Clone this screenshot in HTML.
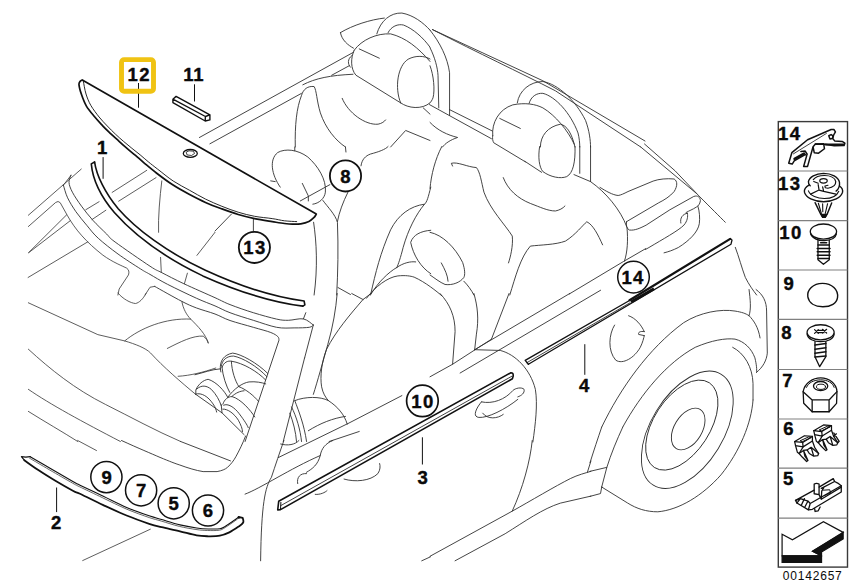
<!DOCTYPE html>
<html><head><meta charset="utf-8"><title>Diagram</title>
<style>
html,body{margin:0;padding:0;background:#fff;}
body{width:858px;height:586px;overflow:hidden;font-family:"Liberation Sans",sans-serif;}
svg{display:block}
text{font-family:"Liberation Sans",sans-serif;font-weight:bold;fill:#0a0a0a;stroke:#0a0a0a;stroke-width:0.4px;stroke-linejoin:round}
</style></head><body>
<svg width="858" height="586" viewBox="0 0 858 586">
<rect width="858" height="586" fill="#fff" stroke="none"/>
<g fill="none" stroke="#303030" stroke-width="0.9" stroke-linecap="round" stroke-linejoin="round">
<path d="M366.52,298.24C375.3,286.45 387.84,277.16 397.88,275.91C405.4,275.16 410.42,275.91 414.18,277.16C425.47,282.18 436.76,291.46 441.78,295.73"/>
</g>
<g fill="none" stroke="#303030" stroke-width="0.9" stroke-linecap="round" stroke-linejoin="round">
<path d="M600,187.38C605.59,190.87 612.59,195.07 618.18,195.49C620.98,195.07 623.78,193.67 627.97,191.57L653.15,181.08C658.74,178.99 667.13,178.29 674.13,178.99C677.62,181.08 677.62,185.98 674.13,191.57C669.93,196.47 664.34,199.97 658.74,202.76L626.57,221.64"/>
<path d="M626.57,221.64C625.87,225.14 626.57,228.64 629.37,230.03C634.97,230.73 640.56,227.94 646.15,225.14L669.93,209.76L693.71,196.47C697.9,195.07 700,197.17 700.42,200.66C700,204.16 697.9,206.26 696.5,206.96C692.31,209.76 689.51,210.45 686.01,212.55"/>
<path d="M697.9,206.26C699.58,211.15 700,218.15 699.3,223.74C697.9,232.13 689.51,240.52 678.32,247.52C672.73,250.31 668.53,251.71 664.06,252.83"/>
<path d="M687.41,213.25C682.52,213.95 679.72,218.15 680.84,223.04"/>
<path d="M687.41,213.25C688.11,216.75 687.41,220.94 683.92,225.14C678.32,230.73 662.94,239.13 648.95,247.52L645.45,249.48"/>
</g>
<g fill="none" stroke="#303030" stroke-width="0.9" stroke-linecap="round" stroke-linejoin="round">

</g>
<g fill="none" stroke="#303030" stroke-width="0.9" stroke-linecap="round" stroke-linejoin="round">
<path d="M331.66,75.26L349.22,65.73"/>
<path d="M295.28,147.01C294.78,125.44 296.53,107.88 301.55,95.33C303.31,89.06 307.82,85.8 314.1,86.55C316.6,90.32 316.6,100.35 320.37,112.89C325.38,127.95 335.42,140.49 345.46,147.01"/>
<path d="M302.81,84.8C315.35,78.27 330.4,75.26 352.98,74.26"/>
<path d="M354.24,50.18C361.76,39.64 376.81,33.12 390.61,33.87C405.67,37.63 418.21,47.67 430,61.46"/>
<path d="M354.24,50.18C350.47,57.7 350.47,68.99 355.99,75.26L400.65,102.86"/>
<path d="M400.65,102.86C394.38,87.81 397.64,65.73 408.17,59.21C415.7,55.19 424.48,55.69 430,58.96"/>
<path d="M400.65,102.86C408.17,108.38 421.97,109.88 430,102.86"/>
<path d="M376.81,33.87C380.58,20.57 390.61,12.54 401.9,13.05C413.19,15.05 423.23,22.58 430,30.11"/>
<path d="M388.1,32.61C391.11,26.34 398.14,23.58 403.66,25.09C413.19,28.85 423.23,37.63 430,47.16"/>
<path d="M340.44,32.61C352.98,25.09 370.54,19.57 384.34,18.06"/>
<path d="M340.44,32.61C341.69,40.14 347.96,45.16 353.48,48.17"/>
<path d="M359.25,48.92L379.32,58.2"/>
<path d="M351.73,55.69C347.46,58.96 347.46,63.97 350.47,67.23"/>
<path d="M342.19,98.34C347.96,112.89 365.52,125.44 378.07,124.18C381.83,123.43 384.34,121.67 385.6,119.92"/>
<path d="M390.61,147.01L405.67,130.46L430,140.49"/>
<path d="M423.23,107.88L430,114.15"/>
</g>
<g fill="none" stroke="#303030" stroke-width="0.9" stroke-linecap="round" stroke-linejoin="round">
<path d="M432.51,29.6L542.89,80.78L645,140.99"/>
<path d="M432.51,29.6C480.18,53.94 517.81,71.5 555.44,90.82L640.74,147.01"/>
<path d="M430,30.11C440.04,42.65 447.56,57.7 449.57,72.75L449.57,115.4"/>
<path d="M430,47.67C435.02,57.7 437.53,67.74 438.03,75.26L438.78,107.88"/>
<path d="M430,65.73C433.76,75.26 435.02,90.32 433.01,97.84C432.01,100.35 430.75,102.36 430,102.86"/>
<path d="M449.57,109.63L492.22,130.96"/>
<path d="M429.5,104.61L491.46,138.73"/>
<path d="M430,122.43C437.53,130.46 447.56,134.97 457.6,137.48C450.07,139.99 445.05,143.5 442.54,147.01"/>
<path d="M492.72,135.47C491.46,122.93 498.99,109.13 512.79,104.87C525.33,102.36 535.37,104.11 542.89,107.88C555.44,115.4 567.98,130.46 574.25,144.25"/>
<path d="M492.72,135.47C492.22,138.48 492.72,140.99 493.72,142.75L525.33,161.81"/>
<path d="M540.38,147.01C540.38,135.47 547.91,126.69 560.46,124.18C566.73,125.44 571.74,132.96 575.01,147.01"/>
<path d="M499.74,118.41L520.32,128.45"/>
<path d="M517.3,102.86C519.06,90.32 530.35,81.53 542.89,81.53C557.95,84.04 575.51,100.35 585.54,120.42C589.31,130.46 590.56,140.49 590.56,147.01"/>
<path d="M529.1,103.36C530.85,96.59 536.62,92.82 542.89,93.33C555.44,96.59 570.49,112.89 578.02,132.96C579.27,137.98 579.77,143 579.77,147.01"/>
</g>
<g fill="none" stroke="#404040" stroke-width="0.85" stroke-linecap="round" stroke-linejoin="round">
<path d="M28.35,215.24L81.28,169.08"/>
<path d="M71,175.35L63.22,185.38"/>
<path d="M28.35,226.53L55.69,202.44Q58.2,200.44 60.21,202.69L67.23,215.24C75.26,229.79 86.55,242.33 102.86,255.13C112.89,262.4 122.93,266.17 126.69,268.17Q129.95,270.43 128.45,274.95L119.17,289L117.91,295.02"/>
<path d="M28.35,252.87L66.73,214.74"/>
<path d="M29.1,252.37L70.5,220.51"/>
<path d="M28.1,277.46L87.81,241.83"/>
<path d="M85.8,209.72L99.1,201.69"/>
<path d="M92.07,219.5L105.87,210.22"/>
<path d="M112.14,192.41L146.76,170.33"/>
<path d="M118.66,201.19L156.04,177.61"/>
<path d="M161.81,180.87C159.81,197.18 158.05,217.25 158.55,232.3"/>
<path d="M160.56,257.38L161.31,272.44"/>
<path d="M215,232.3L196.94,255.38"/>
<path d="M187.4,273.19L184.39,283.73"/>
<path d="M145.01,295.02L150.02,287.24L154.79,286.39"/>
</g>
<g fill="none" stroke="#303030" stroke-width="0.9" stroke-linecap="round" stroke-linejoin="round">
<path d="M294.78,147L294.78,150.76"/>
<path d="M280.23,187.14C271.45,174.6 268.94,159.54 277.72,152.52C285.25,148.25 297.79,149.51 307.82,157.03C317.86,165.82 326.64,179.61 325.38,192.16C324.63,198.43 319.11,203.45 312.84,204.2"/>
<path d="M270.69,180.87L275.21,181.62"/>
<path d="M302.3,183.38L308.33,195.92L308.33,200.94"/>
<path d="M329.9,184.63L300.3,200.94"/>
<path d="M322.88,200.44C327.89,207.21 335.42,214.74 337.43,222.26C338.43,247.35 337.93,272.44 336.67,295.02"/>
<path d="M347.96,192.16C342.95,202.19 339.18,212.23 337.43,221.51"/>
<path d="M313.59,222.26C316.6,242.33 317.86,267.42 314.1,295.02"/>
<path d="M345.46,147L345.96,152.02"/>
<path d="M361.01,165.82C361.76,159.54 365.52,155.78 370.54,154.02C378.07,152.02 385.6,149.51 388.1,146.5"/>
<path d="M430.75,187.14C428.24,197.18 426.99,202.19 424.48,204.2C410.68,205.96 398.14,214.74 390.61,229.79C380.58,252.37 375.56,272.44 370.54,295.02"/>
<path d="M424.48,204.2C415.7,214.74 408.17,229.79 403.16,247.35C400.65,257.38 398.14,264.91 396.88,267.42"/>
<path d="M430.75,230.29C420.72,231.04 413.19,234.81 410.68,242.33C413.19,254.88 420.72,267.42 430.75,273.69"/>
<path d="M396.88,267.42C403.16,262.9 410.68,261.15 415.7,261.9"/>
<path d="M371.04,294.01C378.07,282.47 388.1,272.44 396.88,267.42"/>
<path d="M337.93,287.49L350.47,294.51"/>
<path d="M215,231.04L231.31,214.23"/>
<path d="M253.38,219.25L253.38,231.04"/>
</g>
<g fill="none" stroke="#303030" stroke-width="0.9" stroke-linecap="round" stroke-linejoin="round">
<path d="M441.79,146.5C435.02,159.54 431.25,174.6 430,188.39"/>
<path d="M452.58,166.07L451.32,163.31C457.6,161.55 467.63,167.07 476.41,167.57C480.18,172.09 481.43,182.12 483.94,192.16C490.21,209.72 505.26,224.77 512.29,236.06C513.29,246.1 510.28,257.38 508.52,262.9"/>
<path d="M524.83,161.3L541.64,172.34M574,174.6L590.56,181.62C605.61,192.16 620.66,209.72 626.94,227.28C628.19,239.82 627.44,252.37 624.43,261.15"/>
<path d="M539.63,146.5C537.88,157.03 539.13,167.07 542.89,171.59C550.42,177.1 560.46,179.11 566.73,176.6C573,173.34 575.51,162.05 575.01,146.5"/>
<path d="M579.77,146.5L579.77,173.34"/>
<path d="M590.56,146.5L590.56,181.62"/>
<path d="M503.26,177.61C507.77,189.65 517.81,198.43 530.35,203.45C540.38,207.21 547.91,210.97 555.44,210.97C559.2,210.22 562.96,208.46 564.97,205.96"/>
<path d="M509.78,295.02C515.3,277.46 520.32,257.38 530.35,246.1C540.38,244.84 555.44,244.84 565.47,241.08C575.51,234.81 583.03,224.77 586.8,221.76C593.07,224.77 598.09,234.81 602.6,244.84"/>
<path d="M569.24,294.01L623.68,261.4L645.75,248.6"/>
<path d="M430,232.3C442.54,234.81 455.09,247.35 462.61,262.4C465.12,269.93 465.12,274.95 463.87,277.46C460.11,282.47 452.58,285.48 445.05,284.48C440.04,282.47 433.76,277.46 430,274.95"/>
<path d="M441.29,262.9C445.05,269.93 447.56,274.95 448.06,281.22"/>
<path d="M463.87,281.22C467.63,284.98 471.39,290 473.9,295.02"/>
</g>
<g fill="none" stroke="#303030" stroke-width="0.9" stroke-linecap="round" stroke-linejoin="round">
<path d="M644.5,143.99L675.11,170.83L698.94,195.92C710.23,207.21 720.26,217.25 725.28,222.26"/>
<path d="M640.74,147L696.43,193.41"/>
<path d="M735.32,247.35C739.08,257.38 741.59,267.42 745.35,277.46C749.11,284.98 752.88,290 756.64,295.02"/>
</g>
<g fill="none" stroke="#404040" stroke-width="0.85" stroke-linecap="round" stroke-linejoin="round">
<path d="M117.91,293C122.93,299.02 130.46,303.03 135.47,303.53C139.24,302.78 143,299.02 146.01,293.5"/>
<path d="M181.88,301.53C183.14,309.05 186.9,315.32 190.67,319.09C198.19,326.61 205.72,334.14 208.23,342.92"/>
<path d="M124.68,340.91C140.49,327.87 165.58,317.83 190.67,319.09"/>
<path d="M28.35,302.78L97.84,334.64L124.68,340.91C135.47,344.18 145.51,347.94 150.53,352.96C163.07,366.75 180.63,381.81 195.68,394.35"/>
<path d="M167.33,348.44C180.63,341.67 193.17,335.39 203.21,336.15C205.72,337.9 207.72,340.41 208.23,342.92"/>
<path d="M178.12,376.29C190.67,375.53 203.21,372.27 215.75,368.01"/>
<path d="M28.35,349.19C50.18,369.26 75.26,389.33 105.37,404.38C130.46,416.93 155.54,430.73 180.63,441.51"/>
<path d="M28.35,389.33C50.18,404.38 82.79,421.95 120.42,441.51"/>
<path d="M28.35,411.41C45.16,421.95 62.72,431.98 77.77,441.51"/>
</g>
<g fill="none" stroke="#303030" stroke-width="0.9" stroke-linecap="round" stroke-linejoin="round">
<path d="M304.56,357.97L283.24,441.51"/>
<path d="M337.18,293.5C335.92,309.05 332.91,326.61 327.89,344.18C322.88,361.74 317.36,381.81 313.34,394.35"/>
<path d="M351.73,293.5L363.02,299.52"/>
<path d="M371.04,293.5L363.02,299.52C350.47,314.07 335.42,331.63 326.64,349.19C321.62,361.74 319.87,376.79 321.62,386.82C322.88,393.1 325.38,397.36 328.4,400.62"/>
<path d="M294.78,400.62C305.31,396.36 320.37,396.36 328.4,400.62C337.93,406.89 344.2,414.42 347.21,423.95"/>
<path d="M294.78,400.62C299.04,411.91 304.06,424.46 306.57,441.51"/>
<path d="M291.52,406.89C296.53,416.93 300.3,429.47 301.55,441.51"/>
<path d="M289.76,413.17C293.27,421.95 295.78,431.98 296.53,441.51"/>
<path d="M308.33,430.73C320.37,423.2 332.91,418.18 345.46,416.43"/>
<path d="M347.21,423.95L401.9,395.6"/>
<path d="M329.15,441.51L359.25,431.48"/>
</g>
<g fill="none" stroke="#303030" stroke-width="0.9" stroke-linecap="round" stroke-linejoin="round">
<path d="M440.04,293.5C450.07,304.04 455.09,316.58 455.09,331.63L452.58,364.25"/>
<path d="M473.9,293.5C477.67,306.54 478.92,319.09 476.41,334.14L474.66,349.69"/>
<path d="M509.03,293.5L491.46,339.16"/>
<path d="M430,376.79L452.58,364.25L491.46,339.16"/>
<path d="M474.66,349.69L569.74,293.5"/>
<path d="M460.11,373.03L600.6,290.24"/>
<path d="M474.66,349.69L500.25,350.45C515.3,354.21 530.35,369.26 535.37,389.33C537.88,404.38 535.37,424.46 532.86,442.02"/>
<path d="M481.43,401.88C475.16,409.4 472.65,416.93 478.92,417.43C487.7,418.18 505.26,409.4 517.81,399.37"/>
<path d="M481.43,401.88C492.72,404.38 505.26,399.37 512.79,390.59C515.3,388.08 521.57,386.82 524.08,389.33C524.83,393.1 521.57,395.6 517.81,396.86"/>
<path d="M482.68,413.17C487.7,419.94 497.74,418.68 503.26,414.42"/>
</g>
<g fill="none" stroke="#404040" stroke-width="0.85" stroke-linecap="round" stroke-linejoin="round">
<path d="M77.69,440.5L96.48,450.52"/>
<path d="M82.7,560.54L150.36,529.21"/>
</g>
<g fill="none" stroke="#303030" stroke-width="0.9" stroke-linecap="round" stroke-linejoin="round">
<path d="M283.91,440.5C280.16,451.02 275.14,466.06 271.38,477.34C265.12,487.36 261.36,503.65 260.61,560.79"/>
<path d="M245.07,494.13C260.11,488.61 290.18,468.57 320.25,455.53"/>
<path d="M278.4,457.54L347.07,423.96"/>
<path d="M280.66,444.01C287.67,446.01 295.19,444.76 298.95,440.5"/>
<path d="M297.7,483.6C296.44,477.34 300.2,473.08 306.47,473.58"/>
<path d="M306.47,472.32C312.73,468.57 317.75,464.81 320.25,455.53C321.5,448.52 325.26,443.51 332.78,440.5"/>
<path d="M315.24,494.38C320.25,494.88 325.26,492.37 327.02,490.62"/>
<path d="M344.06,479.09C355.34,482.35 370.37,481.1 377.89,473.58C380.4,469.82 380.4,466.06 379.64,463.55"/>
<path d="M421.75,560.79L430.52,556.78"/>
</g>
<g fill="none" stroke="#303030" stroke-width="0.9" stroke-linecap="round" stroke-linejoin="round">
<path d="M532.24,440.5C530.24,461.05 522.72,488.61 512.2,511.17"/>
<path d="M430,556.28L512.2,511.17C530.24,501.14 555.3,486.11 570.34,478.59C577.85,474.83 585.37,473.08 590.89,471.32"/>
<path d="M455.06,560.79L505.18,533.72C525.23,521.19 542.77,508.66 560.31,503.15L590.89,496.13"/>
<path d="M590.89,461.05L587.38,472.32"/>
</g>
<g fill="none" stroke="#303030" stroke-width="0.9" stroke-linecap="round" stroke-linejoin="round">
<path d="M220.38,369.15C219.56,361.29 223.66,354.74 232.66,353.1C240.85,353.92 257.23,362.93 267.87,373.57"/>
<path d="M221.2,366.53C222.02,359.65 226.93,356.05 233.48,356.05C242.49,357.69 257.23,366.2 267.05,376.84"/>
<path d="M222.02,367.51C223.66,362.11 227.75,360.47 231.84,361.29C242.49,362.93 257.23,371.11 265.74,380.12"/>
<path d="M220.38,369.15L220.87,371.93"/>
<path d="M222.02,367.51C222.84,376.02 226.11,385.85 229.72,392.4"/>
<path d="M231.35,361.29C231.84,371.11 235.12,380.94 238.88,386.67"/>
<path d="M227.75,397.31C234.3,388.31 242.49,382.9 249.04,381.92C255.59,381.26 262.14,382.57 265.74,383.88"/>
<path d="M195,374.72C203.19,372.75 211.38,369.48 220.38,368.82"/>
<path d="M195.82,394.37L195.82,389.94C198.28,384.21 203.19,380.12 208.1,379.3C216.29,381.76 224.47,390.76 227.75,397.31"/>
<path d="M196.64,389.12C201.55,384.54 206.79,385.52 211.38,389.45C216.29,394.37 219.56,400.59 221.2,405.5"/>
<path d="M195.82,394.04C201.55,392.4 208.1,396.49 213.01,403.86C215.47,407.14 216.29,410.41 216.62,412.05"/>
<path d="M195.82,394.37L222.02,412.87L244.12,434.65"/>
<path d="M221.2,404.68L222.02,412.87"/>
<path d="M222.84,404.19C224.47,399.28 227.75,396.82 231.84,396.49C240.85,398.95 250.68,410.41 254.77,416.96"/>
<path d="M223.66,405.17C227.75,403.04 234.3,407.14 239.21,413.69C244.12,420.24 247.4,425.15 248.22,427.61"/>
<path d="M222.84,409.1C227.75,408.77 234.3,413.69 238.39,420.24C240.85,425.15 242.49,428.43 242.49,431.7"/>
<path d="M238.88,386.67C245.76,389.12 253.95,395.68 258.54,401.41"/>
<path d="M231.84,396.49C235.94,392.73 240.03,391.09 244.12,390.76"/>
</g>
<g fill="none" stroke="#303030" stroke-width="0.9" stroke-linecap="round" stroke-linejoin="round">
<path d="M199.4,137.5L353.6,52.2"/>
<path d="M209.9,143.8L301.4,93.4"/>
<path d="M180.6,441.5L230.5,460.9"/>
<path d="M121.5,440.5C140,449 150,453 160,457.4C170,461.5 175,463.5 179.8,465C188,468 196,470.5 203.1,471.6L217.1,471.6C222,470.6 225,469.5 227.6,467.3C231,464 233.5,461 235.8,456.8C239,451 243,443 245.6,436"/>
<path d="M71,175.1C70.7,176.3 68.8,179.6 69,182.4C69.2,185.2 70.3,188.2 72.4,192.2C74.5,196.2 78.1,201.5 81.5,206.2C84.9,210.8 88.5,215.4 92.7,220.1C96.9,224.8 103,230.4 106.7,234.1C110.4,237.8 107.9,236.7 115.1,242C122.3,247.3 142.2,261.1 150,266.2C157.8,271.3 156.1,269.7 161.7,272.6C167.3,275.5 174.9,279.5 183.8,283.7C192.7,287.9 207.3,294.2 215,297.7C222.7,301.2 223.6,302.1 230,304.6C236.4,307.1 245.5,310.3 253.3,312.7C261.1,315.1 270.8,317.8 276.6,319.1C282.4,320.4 283.8,320.3 288.3,320.3C292.8,320.3 299.2,318.1 303.4,318.9C307.6,319.7 311.6,324 313.3,325"/>
<path d="M63.4,185.2C64.1,187.3 65.5,193.4 67.6,197.8C69.7,202.2 72.7,207 75.9,211.7C79.2,216.3 83.4,221.3 87.1,225.7C90.8,230.1 93.1,233.6 98.3,238.3C103.5,243 111,248.9 118,254C125,259.1 135.2,265.5 140.5,268.9C145.8,272.3 145.5,271.8 150,274.4C154.5,277 159.7,280.3 167.5,284.3C175.3,288.3 188.7,294.7 196.6,298.3C204.5,301.9 209.4,303.5 215,305.9C220.6,308.3 223.6,310.3 230,312.7C236.4,315.1 245.5,317.9 253.3,320.3C261.1,322.7 269.8,326 276.6,327.3C283.4,328.6 288.7,327.9 294.1,327.9C299.6,327.9 306.1,327.8 309.3,327.3C312.5,326.8 312.6,325.4 313.3,325"/>
<path d="M154.7,286.4C159.2,288.9 174.5,297.6 181.5,301.2C188.5,304.8 191,305.9 196.6,308C202.2,310.1 209.4,311.9 215,314C220.6,316.1 223.6,318.3 230,320.5C236.4,322.7 246.5,325.3 253.3,327.3C260.1,329.3 266.7,330.9 270.8,332.5C274.9,334.1 276.4,335.3 277.8,336.6C279.2,337.9 278.8,339.5 279,340.1L245.1,441.5"/>
<path d="M313.3,325L304.6,358"/>
<path d="M305.8,312.7L303.4,318.9"/>
</g>
<g fill="none" stroke="#303030" stroke-width="0.9" stroke-linecap="round" stroke-linejoin="round">
<path d="M601.7,427.07C620.41,388.24 648.48,348.48 683.56,322.75C699.93,312.22 720.98,308.71 735.02,311.05C742.03,312.22 745.54,313.39 749.05,315.73C753.73,320.41 758.41,327.42 760.05,337.95"/>
<path d="M749.05,289.53C750.22,299.36 751.39,308.71 749.05,315.73"/>
<path d="M756.07,289.53C763.09,294.68 766.59,301.69 766.59,311.05L767.3,353.15C766.59,360.17 763.09,367.19 756.54,372.33"/>
<path d="M622.75,427.07C641.46,392.92 667.19,362.51 695.25,347.31C711.63,340.29 725.66,337.95 735.02,339.12C744.37,341.46 751.39,348.48 754.9,357.83C756.54,364.85 757,369.53 756.54,372.33"/>
<path d="M732.68,347.31C744.37,353.15 752.56,367.19 753.03,383.56L753.03,399.93"/>
<path d="M614.56,325.08C608.71,334.44 607.54,350.81 615.73,360.17C622.75,364.85 634.44,357.83 640.29,347.31C642.63,342.63 643.8,337.95 644.26,335.61"/>
<path d="M628.59,315.73C635.61,318.07 641.46,325.08 644.26,331.63"/>
<path d="M644.26,331.63C640.29,330.93 637.95,332.1 638.65,334.44L644.26,335.61"/>
</g>
<g fill="none" stroke="#303030" stroke-width="0.9" stroke-linecap="round" stroke-linejoin="round">
<path d="M753.03,400C751.39,423.39 739.7,451.46 720.98,474.85C702.27,495.9 678.88,509.93 657.83,511.8C646.14,511.8 636.78,508.76 627.42,502.92L601.7,487.01"/>
<path d="M601.7,487.01L606.84,467.36L590,471.34"/>
<path d="M601.7,487.01L600.53,493.56L590,496.37"/>
<path d="M601.7,427.13C598.19,437.42 593.51,451.46 590,462.69"/>
<path d="M622.75,427.13C616.9,439.76 611.05,453.8 606.84,467.36"/>
</g>

<!-- part 12 panel -->
<g fill="none" stroke="#111" stroke-linecap="round" stroke-linejoin="round">
<path d="M82.3,79.9 C81.9,80.2 80.5,80.7 80.0,81.5 C79.5,82.3 78.8,82.6 79.0,84.8 C79.2,87.0 80.3,91.0 81.5,94.6 C82.7,98.1 84.2,102.4 86.4,106.1 C88.6,109.8 91.9,113.5 94.6,116.8 C97.3,120.1 100.0,122.9 102.7,125.8 C105.4,128.7 108.2,131.3 110.9,133.9 C113.6,136.5 116.4,138.8 119.1,141.3 C121.8,143.8 124.6,146.3 127.3,148.7 C130.0,151.0 132.8,153.1 135.5,155.4 C138.2,157.7 140.2,159.7 143.7,162.6 C147.2,165.5 151.6,169.3 156.4,173.0 C161.2,176.7 167.2,181.3 172.7,184.8 C178.1,188.3 183.6,191.3 189.1,194.2 C194.6,197.1 200.0,199.9 205.5,202.4 C211.0,204.9 216.5,206.9 221.9,208.9 C227.3,210.9 232.8,212.9 238.2,214.5 C243.6,216.1 248.9,217.4 254.6,218.6 C260.3,219.8 267.2,220.8 272.2,221.6 C277.2,222.4 281.1,223.1 284.5,223.5 C287.9,223.9 289.9,224.1 292.6,224.2 C295.3,224.2 298.1,224.3 300.8,223.8 C303.5,223.3 306.7,222.4 308.9,221.4 C311.1,220.4 312.6,218.9 313.8,217.7 C315.0,216.5 315.9,214.7 316.3,214.1 L82.3,79.9 Z" stroke-width="1.7"/>
<path d="M83.3,81.0 C83.8,83.2 84.7,89.9 86.0,94.0 C87.3,98.1 88.7,101.7 90.9,105.5 C93.1,109.3 96.4,113.6 99.1,117.0 C101.8,120.4 104.6,123.1 107.3,126.0 C110.0,128.9 112.8,131.6 115.5,134.2 C118.2,136.8 121.0,139.2 123.7,141.5 C126.4,143.8 129.2,146.1 131.9,148.3 C134.6,150.5 137.4,152.6 140.1,154.8 C142.8,157.1 145.4,159.4 148.3,161.8 C151.2,164.2 153.6,166.0 157.7,169.2 C161.9,172.4 167.9,177.5 173.2,181.0 C178.5,184.5 184.2,187.3 189.6,190.3 C195.0,193.3 200.1,196.4 205.5,199.1 C210.9,201.8 216.5,204.1 221.9,206.3 C227.3,208.5 232.8,210.5 238.2,212.2 C243.6,213.9 248.9,215.2 254.6,216.3 C260.3,217.4 267.2,217.8 272.2,218.6 C277.2,219.3 280.4,220.3 284.5,220.8 C288.6,221.3 294.7,221.5 296.7,221.6" stroke-width="0.9"/>
<ellipse cx="190.3" cy="153.4" rx="7" ry="3.9" stroke-width="1.3"/>
<path d="M186.5,152 L189,150.8 L193.5,151.2 L194.5,153.5 L191.5,155.5 L187.5,155 Z" stroke-width="0.8"/>
<!-- bar 11 -->
<path d="M172.9,99.2 L176.1,96.4 L209.9,114.8 L209.9,119.9 L205.2,121 L172.9,102.6 Z M172.9,99.2 L205.4,116.5 L209.9,114.8 M205.4,116.5 L205.2,121" stroke-width="1.4"/>
<!-- leaders -->
<path d="M138.5,83.4 V107.3 M194.5,84.7 V101.1 M103.1,157.5 V178.4" stroke-width="1"/>
</g>
<rect x="121.5" y="59.6" width="32" height="31.7" rx="2.6" fill="none" stroke="#F0C313" stroke-width="4.9"/>

<!-- callout circles -->
<g fill="#fff" stroke="#111" stroke-width="1.8">
<circle cx="345.5" cy="175.9" r="15.6"/>
<circle cx="254.4" cy="247.4" r="15.6"/>
</g>

<text x="127.6" y="80.6" font-size="18.5" letter-spacing="1.4">12</text>
<text x="183.2" y="80.6" font-size="18.5" letter-spacing="0.7">11</text>
<text x="97" y="153.8" font-size="18.5">1</text>
<text x="345.5" y="182.5" font-size="18.5" text-anchor="middle">8</text>
<text x="254.9" y="254" font-size="18.5" text-anchor="middle" letter-spacing="1.4">13</text>
<!-- parts panel -->
<g fill="none" stroke="#3a3a3a" stroke-width="1.4">
<rect x="778.3" y="121.6" width="69.2" height="445.5"/>
</g>
<g fill="none" stroke="#808080" stroke-width="1.2">
<path d="M778.3,171 H847.5 M778.3,220.6 H847.5 M778.3,270 H847.5 M778.3,319.4 H847.5 M778.3,369.5 H847.5 M778.3,419 H847.5 M778.3,468.2 H847.5 M778.3,518.2 H847.5"/>
</g>
<text x="778" y="139.8" font-size="18.5" letter-spacing="1.4">14</text>
<text x="778" y="190.2" font-size="18.5" letter-spacing="1.4">13</text>
<text x="779.2" y="239" font-size="18.5" letter-spacing="1.4">10</text>
<text x="783.5" y="290.2" font-size="18.5">9</text>
<text x="781.25" y="338.5" font-size="18.5">8</text>
<text x="782.2" y="387" font-size="18.5">7</text>
<text x="783.2" y="434.7" font-size="18.5">6</text>
<text x="782.9" y="484.9" font-size="18.5">5</text>
<text x="782.8" y="580" font-size="12" letter-spacing="0.8" style="font-weight:normal;stroke:none">00142657</text>
<!-- icon 14 -->
<g fill="none" stroke="#111" stroke-width="1.5" stroke-linejoin="round" stroke-linecap="round">
<path d="M792.25,164.06L788.71,163.28L791.86,152.67L807.57,139.71L831.13,129.5L833.88,129.5L835.45,131.85L833.64,135L832.7,138.53L834.66,140.89L842.13,141.44L844.88,143.24L844.09,145.6L834.27,145.84L824.85,144.27L815.42,144.03L813.06,146.78L807.57,166.42L803.64,166.57L806.78,155.42L805.21,154.63L794.21,160.92Z"/>
<path d="M828.77,135.78L831.13,134.6L833.09,135.78L832.31,138.53L829.95,138.92Z"/>
<path d="M815.42,144.03L823.67,143.64L824.45,148.74L818.56,153.22L814.24,152.67L813.22,147.56"/>
<path d="M793.43,153.85L826.42,133.43" stroke-width="0.8"/>
<path d="M800.89,151.49L805.21,151.1L807.17,154.24"/>
<path d="M794.6,158.95L804.03,153.69" stroke-width="2.6"/>
<path d="M825.63,144.58L843.7,144.58" stroke-width="2"/>
</g>
<!-- icon 13 -->
<g fill="none" stroke="#111" stroke-width="1.4" stroke-linejoin="round" stroke-linecap="round">
<path d="M809.31,184.91C805.76,186.86 803.99,189.52 804.43,192.18C805.76,197.51 813.75,201.68 823.51,201.68C833.27,201.68 841.25,197.51 842.58,192.18C843.03,189.52 841.43,187.3 839.48,185.97"/>
<path d="M808.42,190.85C810.2,195.73 817.3,198.57 824.39,198.57C831.49,198.57 836.99,195.73 838.77,191.3" stroke-width="1.1"/>
<path d="M810.2,185.79C808.87,184.64 808.24,183.31 808.42,181.53C809.31,177.1 815.52,173.55 823.51,173.37C831.49,173.37 838.59,177.1 839.48,182.42C839.92,185.97 838.59,189.08 836.11,191.12"/>
<path d="M813.3,179.58C815.52,176.74 819.96,175.5 824.39,175.5C830.6,175.5 835.04,177.99 835.75,181.53C835.93,184.64 833.27,187.3 827.94,188.28L825.28,187.75L824.93,185.97L827.94,185.26" stroke-width="1.2"/>
<ellipse cx="823.51" cy="180.83" rx="3.73" ry="2.22" stroke-width="1.2"/>
<path d="M810.64,194.13L819.07,190.05L823.68,191.3L835.93,194.13M819.07,190.05L818.18,184.64M823.68,191.3L822.62,186.86M813.75,181.53L818.18,183.31" stroke-width="1.2"/>
<path d="M815.08,202.65L820.84,214.37L822.62,217.2L825.28,217.2L827.06,214.37L831.67,203.01"/>
<path d="M818.36,203.27L821.38,213.48M822.62,203.72L822.8,211.7M827.59,203.72L825.28,213.48" stroke-width="1.1"/>
<path d="M821.29,214.37L822.62,217.2L825.28,217.2L826.61,214.37Z" fill="#111"/>
</g>
<!-- icon 10 -->
<g fill="none" stroke="#111" stroke-width="1.3" stroke-linejoin="round" stroke-linecap="round">
<ellipse cx="823.43" cy="231.54" rx="13.15" ry="7.52"/>
<path d="M810.65,233.79C812.16,238.49 818.73,240.93 824.37,240.55C830.95,240.18 835.64,237.55 836.4,233.79"/>
<path d="M817.98,240.55L817.98,259.72L823.43,264.23L829.26,259.72L829.26,240.18"/>
<path d="M817.98,245.06H829.26M817.23,248.45H830.01M817.23,251.83H830.01M817.23,255.21H830.01M817.98,258.59H829.26M820.61,242.81H826.62" stroke-width="1.5"/>
</g>
<!-- icon 9 -->
<g fill="none" stroke="#111" stroke-width="1.4">
<path d="M807.83,296.92C806.71,289.78 813.1,283.4 822.49,283.4C831.89,283.4 838.65,289.78 837.52,297.68C836.77,303.31 830.95,306.7 822.87,306.7C814.98,306.7 808.96,303.31 807.83,296.92Z"/>
</g>
<!-- icon 8 -->
<g fill="none" stroke="#111" stroke-width="1.3" stroke-linejoin="round" stroke-linecap="round">
<ellipse cx="820.61" cy="332.29" rx="13.53" ry="7.52"/>
<path d="M807.08,333.79C807.83,339.05 814.04,341.68 820.61,341.68C827.75,341.68 833.76,339.05 834.14,333.79"/>
<path d="M814.6,329.66L818.36,333.41M818.36,329.66L814.6,333.41M822.49,329.28L826.62,333.04M826.62,329.28L822.49,333.04M817.23,330.41H823.99M817.23,332.66H823.99" stroke-width="1.2"/>
<path d="M814.98,341.68L814.98,356.71L819.67,366.67L825.87,356.71L825.87,341.68"/>
<path d="M814.98,345.06L825.87,343.56M814.98,349.2L825.87,347.69M814.98,353.33L825.87,351.83M814.98,357.09L825.87,355.96" stroke-width="1.5"/>
</g>
<!-- icon 7 -->
<g fill="none" stroke="#111" stroke-width="1.3" stroke-linejoin="round" stroke-linecap="round">
<path d="M803.14,391.66C804.64,382.64 813.1,377.95 820.61,377.95C829.07,377.95 836.58,383.58 836.96,391.66L836.58,403.31L829.07,411.77L812.16,411.77L803.7,403.31Z"/>
<path d="M803.14,391.66L812.16,399.93L829.07,399.93L836.96,391.66M812.16,399.93V411.77M829.07,399.93V411.77"/>
<ellipse cx="820.61" cy="386.03" rx="7.14" ry="4.51"/>
<ellipse cx="820.99" cy="386.78" rx="4.51" ry="2.63" stroke-width="1"/>
<path d="M806.52,387.34C808.4,382.64 814.04,379.83 820.61,379.83C827.19,379.83 832.83,382.64 834.14,387.34" stroke-width="1"/>
</g>
<!-- icon 6 -->
<g fill="none" stroke="#111" stroke-width="1.25" stroke-linejoin="round" stroke-linecap="round">
<path d="M813.74,430.69L823.5,424.92L831.49,425.63L821.73,431.58Z"/>
<path d="M819.51,429.8L827.94,425.99L829.98,426.88L821.73,430.69Z" stroke-width="1"/>
<path d="M813.74,430.69L814.63,434.69L822.17,436.02L821.73,431.58M822.17,436.02L831.49,430.25L831.49,425.63"/>
<path d="M814.63,434.69L816.4,441.34L818.18,442.68L820.4,439.12L822.17,436.02"/>
<path d="M818.18,442.68L822.62,439.57L827.05,449.78L825.72,450.66L821.28,446.23ZM822.62,439.57L823.95,445.34L827.05,449.78"/>
<path d="M826.17,439.12L830.16,436.46L837.71,442.68L836.82,444.89L832.82,445.34L828.39,442.68ZM830.16,436.46L832.82,445.34M822.62,439.57L826.17,439.12"/>
<path d="M831.49,430.25L833.71,436.46L837.71,442.68"/>
<path d="M837.71,442.68L839.21,441.34L833.71,432.91M833.71,436.46L836.37,433.8"/>
</g>
<g fill="none" stroke="#111" stroke-width="1.25" stroke-linejoin="round" stroke-linecap="round">
<path d="M794.66,441.52L804.42,435.75L812.41,436.46L802.65,442.41Z"/>
<path d="M800.43,440.63L808.86,436.82L810.9,437.7L802.65,441.52Z" stroke-width="1"/>
<path d="M794.66,441.52L795.54,445.52L803.09,446.85L802.65,442.41M803.09,446.85L812.41,441.08L812.41,436.46"/>
<path d="M795.54,445.52L797.32,452.17L799.1,453.5L801.31,449.95L803.09,446.85"/>
<path d="M799.1,453.5L803.53,450.4L807.97,460.6L806.64,461.49L802.2,457.05ZM803.53,450.4L804.86,456.17L807.97,460.6"/>
<path d="M807.08,449.95L811.08,447.29L818.62,453.5L817.73,455.72L813.74,456.17L809.3,453.5ZM811.08,447.29L813.74,456.17M803.53,450.4L807.08,449.95"/>
<path d="M812.41,441.08L814.63,447.29L818.62,453.5"/>
</g>
<!-- icon 5 -->
<g fill="none" stroke="#111" stroke-width="1.3" stroke-linejoin="round" stroke-linecap="round">
<path d="M795.54,500.4L814.18,490.19L814.18,483.98Q816.58,482.65 819.07,483.98L819.07,487.08L833.27,478.65L834.6,481.49L837.71,483.09L841.26,485.75L841.26,491.97L812.41,509.27L808.41,509.89L796.88,503.06Z"/>
<path d="M796.88,503.06L800.43,498.62L795.54,500.4M801.31,505.28L804.42,498.62M804.86,507.05L807.97,501.02M808.41,509.72L810.19,503.5L841.26,485.75M810.19,503.5L807.97,501.02L800.43,498.62"/>
<path d="M814.18,490.19L814.18,493.74L819.07,494.63L819.07,487.08M819.07,494.63L821.28,499.24L841.26,487.08M821.28,488.41L834.6,481.49M821.28,499.24L821.73,491.08L824.39,486.64"/>
<path d="M823.5,490.19L829.72,489.75L830.6,492.85L824.39,495.52" stroke-width="1"/>
<path d="M814.63,508.65L815.07,511.49L818.18,510.78L820.13,507.05"/>
</g>
<!-- arrow icon -->
<g stroke="#111" stroke-width="1.2" stroke-linejoin="miter">
<path d="M782.09,534.25L792.43,539.89L823.43,521.66L843.16,532.37L812.53,551.16L821.55,555.86L782.09,555.86Z" fill="#fff"/>
<path d="M782.09,555.86H821.55V562.43H782.09Z" fill="#111"/>
<path d="M812.53,551.16L840.34,534.62L843.16,532.37L843.16,538.95L821.55,552.1L821.55,555.86Z" fill="#111"/>
</g>
<!-- part 1 -->
<g fill="none" stroke="#111" stroke-width="1.6" stroke-linecap="round" stroke-linejoin="round">
<path d="M94.62,162.05C96.41,175.38 105.38,193.33 118.21,208.72C136.15,229.23 166.92,252.31 205.38,270.26C238.72,285.64 274.62,297.18 304.1,301.03L304.87,304.87L302.82,306.15"/>
<path d="M94.62,162.05L91.28,163.85C92.56,177.95 100.26,195.9 114.36,212.56C133.59,234.36 164.36,257.44 202.82,275.9C236.15,290.77 272.05,302.31 302.82,306.15"/>
</g>
<!-- part 2 -->
<g fill="none" stroke="#111" stroke-linecap="round" stroke-linejoin="round">
<path d="M24.3,460.2 C26.6,461.9 33.0,466.6 38.3,470.1 C43.5,473.6 50.0,477.6 55.8,481.1 C61.6,484.6 69.3,488.9 73.3,491.0 C77.3,493.1 75.0,491.4 80.0,493.8 C85.0,496.2 95.5,501.5 103.3,505.1 C111.1,508.7 118.8,512.3 126.6,515.5 C134.4,518.7 144.1,522.1 149.9,524.1 C155.8,526.1 156.7,526.0 161.7,527.2 C166.7,528.4 174.2,529.9 180.0,531.3 C185.8,532.7 191.9,534.6 196.6,535.4 C201.3,536.2 204.4,536.2 208.3,536.3 C212.2,536.3 216.4,536.4 219.9,535.7 C223.4,535.1 226.2,533.9 229.3,532.4 C232.4,530.9 236.3,528.2 238.6,526.6 C240.9,525.0 242.5,524.0 243.2,522.5 C243.9,521.0 242.8,518.7 242.7,517.9 L238.6,517" stroke-width="1.8"/>
<path d="M24.3,460.2 L21.4,456.7 L25.8,457.2 L30.2,456.7 " stroke-width="1.2"/>
<path d="M30.2,456.7 C33.5,458.6 42.8,464.1 50.0,468.3 C57.2,472.5 68.3,478.9 73.3,481.7 C78.3,484.5 75.0,482.8 80.0,485.2 C85.0,487.6 95.5,492.6 103.3,496.3 C111.1,500.0 118.8,504.1 126.6,507.4 C134.4,510.7 144.1,514.1 149.9,516.1 C155.8,518.1 156.7,518.0 161.7,519.5 C166.7,521.0 174.2,523.5 180.0,524.9 C185.8,526.3 191.9,527.3 196.6,528.0 C201.3,528.7 204.4,528.9 208.3,529.0 C212.2,529.1 217.0,529.2 219.9,528.7 C222.8,528.2 223.0,527.7 225.8,526.0 C228.6,524.3 234.7,520.0 236.8,518.5 C238.9,517.0 238.3,517.2 238.6,517.0" stroke-width="1.1"/>
<path d="M29.6,458.2 C32.9,460.1 42.2,465.6 49.4,469.8 C56.6,474.0 67.7,480.4 72.7,483.2 C77.7,486.0 74.4,484.3 79.4,486.7 C84.4,489.1 94.9,494.1 102.7,497.8 C110.5,501.5 118.2,505.6 126.0,508.9 C133.8,512.2 143.5,515.6 149.3,517.6 C155.2,519.6 156.1,519.5 161.1,521.0 C166.1,522.5 173.6,525.0 179.4,526.4 C185.2,527.8 191.3,528.8 196.0,529.5 C200.7,530.2 203.8,530.4 207.7,530.5 C211.6,530.6 216.4,530.7 219.3,530.2 C222.2,529.7 222.4,529.2 225.2,527.5 C228.0,525.8 234.1,521.5 236.2,520.0 C238.3,518.5 237.7,518.8 238.0,518.5" stroke-width="0.9" stroke="#555"/>
<circle cx="238.8" cy="517.6" r="1.2" fill="#111" stroke="none"/>
</g>
<!-- part 3 -->
<g fill="none" stroke="#111" stroke-linecap="round" stroke-linejoin="round">
<path d="M277.7,510 L278.7,501.3 L510.9,372.7 Q513.5,372.8 513.2,376 L512.4,378.8 L280.5,509.6 Z" stroke-width="1.6"/>
<path d="M280.9,502.4 L280.5,509.6" stroke-width="1"/>
<path d="M280.8,505.6 L511.9,376.2" stroke-width="0.8"/>
</g>
<!-- part 4 -->
<g fill="none" stroke="#111" stroke-linecap="round" stroke-linejoin="round">
<path d="M528.4,364.2 L525.2,360.4 L629.5,300.5" stroke-width="1.4"/>
<path d="M629.5,300.2 L730.2,238.9" stroke-width="2.2"/>
<path d="M730.2,238.9 L732,240 L731,244.2 L528.4,364.2" stroke-width="1.3"/>
<path d="M527,362.6 L630,302.8" stroke-width="0.8"/>
<path d="M631,302 L654,288.8" stroke-width="3" stroke-linecap="butt"/>
</g>
<!-- circles -->
<g fill="#fff" stroke="#111" stroke-width="1.5">
<circle cx="106.4" cy="477.1" r="15.6"/>
<circle cx="141.1" cy="490.3" r="15.6"/>
<circle cx="173.7" cy="503.3" r="15.6"/>
<circle cx="208" cy="510.5" r="15.6"/>
<circle cx="422.4" cy="400.9" r="15.8" stroke-width="1.7"/>
<circle cx="633.5" cy="277.1" r="15.8" stroke-width="1.5"/>
</g>
<g fill="none" stroke="#111" stroke-width="1">
<path d="M56.6,487.5 V512.1 M422.4,437.3 V464.5 M584.8,344.2 V374.8"/>
</g>

<text x="106.6" y="483.7" font-size="18.5" text-anchor="middle">9</text>
<text x="141.1" y="496.9" font-size="18.5" text-anchor="middle">7</text>
<text x="173.7" y="509.9" font-size="18.5" text-anchor="middle">5</text>
<text x="208" y="517.1" font-size="18.5" text-anchor="middle">6</text>
<text x="422.9" y="407.5" font-size="18.5" text-anchor="middle" letter-spacing="1.4">10</text>
<text x="633.1" y="283.7" font-size="18.5" text-anchor="middle" letter-spacing="1.4">14</text>
<text x="50.9" y="529.4" font-size="18.5">2</text>
<text x="417.5" y="483.8" font-size="18.5">3</text>
<text x="579" y="391.8" font-size="18.5">4</text>
<g fill="none" stroke="#303030" stroke-width="0.9">
<ellipse cx="688.2" cy="429" rx="13.9" ry="22.9" transform="rotate(31.4 688.2 429)"/>
<ellipse cx="681.8" cy="425.1" rx="28" ry="50.5" transform="rotate(33 681.8 425.1)"/>
<ellipse cx="687.3" cy="429.8" rx="36.2" ry="65" transform="rotate(31.5 687.3 429.8)"/>
</g>

</svg>
</body></html>
